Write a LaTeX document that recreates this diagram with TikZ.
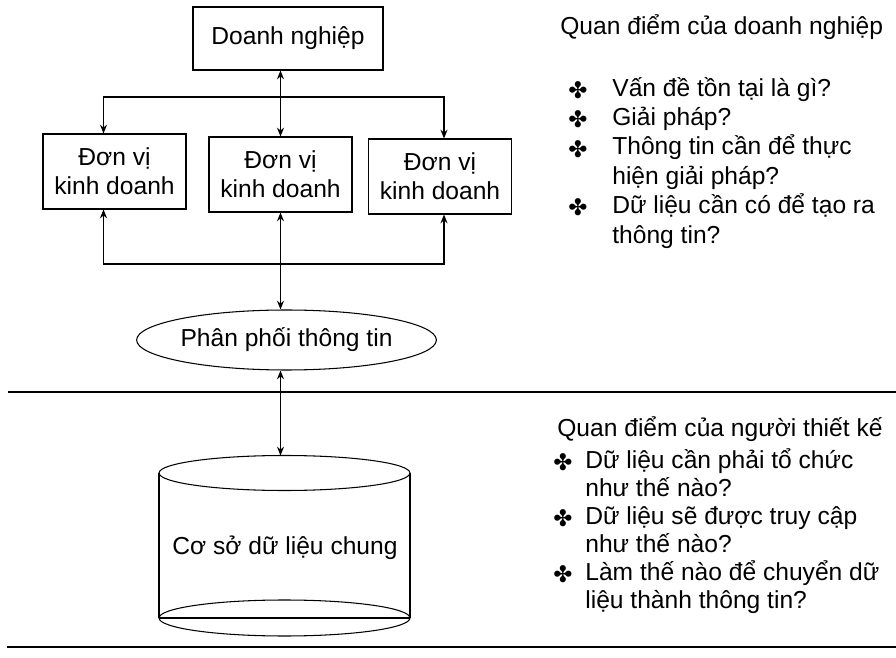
\documentclass[tikz,border=0pt]{standalone}
\usepackage{fontspec}
\setmainfont{Liberation Sans}
\newfontfamily\dingfont{DejaVu Sans}
\usetikzlibrary{calc,shapes.geometric,arrows.meta}

\newcommand{\bul}{{\dingfont\fontsize{13pt}{13pt}\selectfont ✤}}

\begin{document}
\begin{tikzpicture}[x=0.02cm,y=-0.02cm,
        every node/.style={font=\fontsize{14pt}{16.5pt}\selectfont},
        box/.style={draw, rectangle, align=center, line width=0.6pt, minimum width=2.86cm, minimum height=1.5cm},
        link/.style={line width=0.6pt},
        main/.style={line width=1.1pt},
        listtext/.style={anchor=west, inner sep=0, text height=10pt, text depth=3pt},
        >={Stealth[length=5pt,width=4pt]}]
        \useasboundingbox (0,0) rectangle (896,658);

        \node[box, minimum width=3.8cm, minimum height=1.26cm] (dn) at (288,38.5) {Doanh nghiệp};
        \node[box] (dv1) at (114.5,171.5) {Đơn vị\\kinh doanh};
        \node[box] (dv2) at (280.5,174.5) {Đơn vị\\kinh doanh};
        \node[box] (dv3) at (440,176.5) {Đơn vị\\kinh doanh};
        \node[draw, ellipse, line width=0.6pt, inner sep=0, minimum width=5.66cm, minimum height=1.2cm] (pp) at (286.5,340) {Phân phối thông tin};

        \coordinate (tj) at (280.5,97);
        \coordinate (bj) at (280.5,264);
        \draw[main,<->] (dn.south -| dv2.north) -- (dv2.north);
        \draw[link,->] (tj) -| ([xshift=-0.22cm]dv1.north);
        \draw[link,->] (tj) -| ([xshift=0.08cm]dv3.north);
        \draw[main,<->] (dv2.south) -- (dv2.south |- pp.north);
        \draw[link,->] (bj) -| ([xshift=-0.22cm]dv1.south);
        \draw[link,->] (bj) -| ([xshift=0.08cm]dv3.south);

        % co so du lieu
        \coordinate (dbtop) at (284.5,455.5);
        \draw[link] (284.5,473) ellipse [x radius=2.51cm, y radius=0.35cm];
        \draw[link] (159,473) -- (159,618) (410,473) -- (410,618);
        \draw[link] (284.5,618) ellipse [x radius=2.51cm, y radius=0.36cm];
        \draw[link] (159,618) -- (410,618);
        \node (csdl) at (285,548) {Cơ sở dữ liệu chung};
        \draw[main,<->] (dv2.south |- pp.south) -- (dv2.south |- dbtop);

        \draw[link] (8,392) -- (896,392);
        \draw[link] (7,647) -- (896,647);

        \node[listtext] (qdn) at (560,28) {Quan điểm của doanh nghiệp};
        \foreach \b/\txt [count=\i from 0] in {1/Vấn đề tồn tại là gì?, 1/Giải pháp?, 1/Thông tin cần để thực, 0/hiện giải pháp?, 1/Dữ liệu cần có để tạo ra, 0/thông tin?}{
        \node[listtext] (dnl\i) at (612,{90+29.4*\i}) {\txt};
        \ifnum\b=1 \node[inner sep=0] (dnb\i) at (578,{90+29.4*\i}) {\bul}; \fi
        }

        \node[listtext] (qtk) at (557,430) {Quan điểm của người thiết kế};
        \foreach \b/\txt [count=\i from 0] in {1/Dữ liệu cần phải tổ chức, 0/như thế nào?, 1/Dữ liệu sẽ được truy cập, 0/như thế nào?, 1/Làm thế nào để chuyển dữ, 0/liệu thành thông tin?}{
        \node[listtext] (tkl\i) at (585,{462+28*\i}) {\txt};
        \ifnum\b=1 \node[inner sep=0] (tkb\i) at (563,{462+28*\i}) {\bul}; \fi
        }
    \end{tikzpicture}
\end{document}
